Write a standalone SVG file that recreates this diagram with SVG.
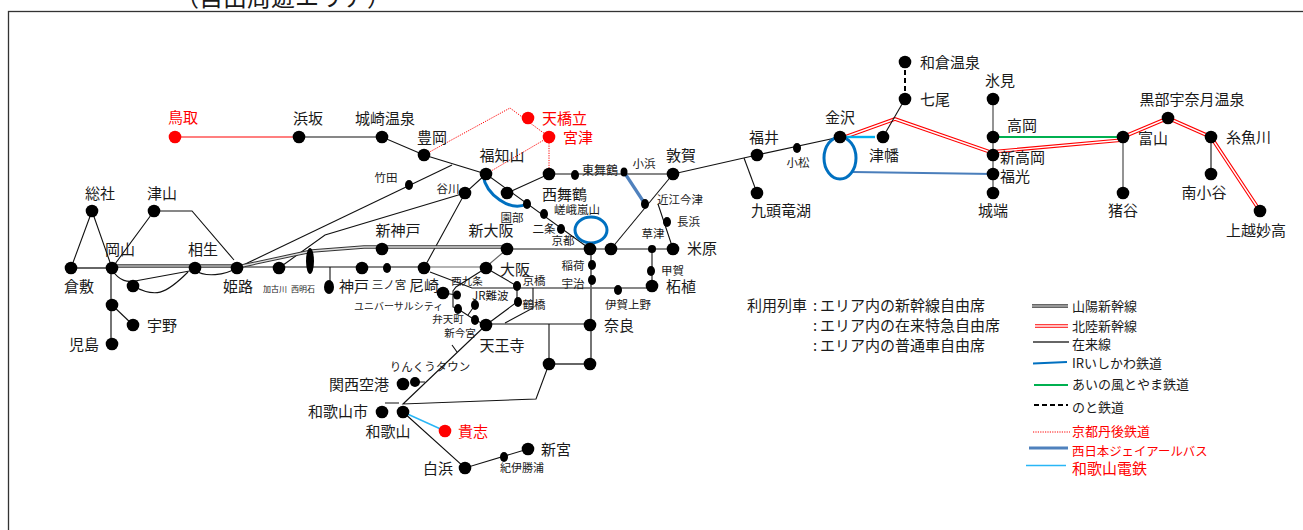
<svg xmlns="http://www.w3.org/2000/svg" width="1303" height="530" viewBox="0 0 1303 530">
<style>
text{font-family:"Noto Sans CJK JP","Liberation Sans",sans-serif;font-size:15px;fill:#1a1a1a}
.s{font-size:11.5px}.t{font-size:8px}.m{text-anchor:middle}.r{fill:#f00}
.lg{font-size:13px}
circle,ellipse.d{fill:#000}.red{fill:#f00}
path{fill:none}
.k{stroke:#111;stroke-width:1.1}.g{stroke:#666;stroke-width:1.8}
.so{stroke:#333;stroke-width:3.6}
.ho{stroke:#f00;stroke-width:3.6}.hw{stroke:#fff;stroke-width:1.4}
.b{stroke:#0070c0;stroke-width:3}.bl{stroke:#4a7ebb;stroke-width:2.2}.c{stroke:#29b6f6;stroke-width:1.4}.ci{stroke:#00b0f0;stroke-width:2.4}
.gr{stroke:#00b050;stroke-width:2.2}.dt{stroke:#f00;stroke-width:1;stroke-dasharray:1.2 1.2}
.bus{stroke:#4f81bd;stroke-width:3.2}.da{stroke:#000;stroke-width:2;stroke-dasharray:5 3}
</style>
<text x="175" y="6" style="font-size:24px">（自由周遊エリア）</text>
<rect x="8.500" y="11.500" width="1300" height="530" fill="none" stroke="#333" stroke-width="1.3"/>
<g id="connectors">
<path style="stroke:#f00;stroke-width:1.1" d="M175 137H299"/>
<path class="k" d="M299 137H382L424 155L486 174L590 249"/>
<path class="k" d="M507 193L549 174H673L757 155L840 137"/>
<path class="k" d="M744 158L757 193"/>
<path class="k" d="M673 174L611 249"/>
<path class="k" d="M658 204L673 249"/>
<path class="bus" d="M624 172L645 204"/>
<path class="dt" d="M424 155L510 108L549 137"/>
<path class="dt" d="M486 174L549 137V174"/>
<path class="k" d="M237 268L452 165"/>
<path class="k" d="M279 268L325 235L465 193"/>
<path class="k" d="M424 268L465 193L486 174"/>
<path class="k" d="M92 211L71 268M92 211L112 268M154 211L115 264M154 211H192L234 260"/>
<path class="g" d="M71 268H112M111 268V344"/>
<path class="k" d="M112 270C120 282 128 282 135 281L195 270"/>
<path class="k" d="M133 286C155 298 165 295 188 272"/>
<path class="k" d="M195 270C205 278 225 275 237 268"/>
<path class="k" d="M112 305L133 325"/>
<path class="so" d="M112 266H237"/><path class="hw" d="M112 266H237" style="stroke-width:1.2"/>
<path class="k" d="M237 267H424"/>
<path class="k" d="M330 267V287"/>
<path class="so" d="M237 267L312 251L364 247H507" style="stroke-width:3.4"/>
<path class="hw" d="M237 267L312 251L364 247H507" style="stroke:#ddd;stroke-width:1.4"/>
<path class="k" d="M507 249H673"/>
<path class="g" d="M424 267H486L507 249" style="stroke-width:1.2"/>
<path class="k" d="M486 268L517 286V302L486 325"/>
<path class="k" d="M486 268L456 287L453 291V307L458 309L475 320L486 325"/>
<path class="k" d="M443 293L457 295M475 305L468 315"/>
<path class="k" d="M430 272L472 288H652"/>
<path class="k" d="M533 288V308L505 323"/>
<path class="k" d="M652 249V286"/>
<path class="k" d="M486 324H590M549 324V364"/>
<path class="g" d="M591 249V364H549"/>
<path class="k" d="M549 364L536 399L403 404L486 325"/>
<path class="k" d="M452 345L457 352M415 382H425M385 403H399"/>
<path class="k" d="M403 412L465 468L528 449"/>
<path class="c" d="M403 412L445 431"/>
<path class="ho" d="M845 137L895 119L990 152L1123 140"/><path class="hw" d="M845 137L895 119L990 152L1123 140"/>
<path class="ho" d="M1123 137L1168 118L1211 137L1260 211"/><path class="hw" d="M1123 137L1168 118L1211 137L1260 211"/>
<path class="ci" d="M845 137H875"/>
<path class="k" d="M905 99L883 137"/>
<path class="da" d="M905 62V99"/>
<path class="g" d="M993 99V193M1123 137V193" style="stroke-width:1.4"/>
<path class="k" d="M1211 137V174"/>
<path class="gr" d="M993 137H1123"/>
<path class="bl" d="M853 172L993 174"/>
<path class="b" d="M483 175C486 195 510 212 527 204"/>
<ellipse class="b" cx="591" cy="230" rx="16" ry="13" fill="none"/>
<ellipse class="b" cx="840" cy="158" rx="16" ry="21" fill="none"/>
</g>
<g id="n-tottori"><circle class="red" cx="175" cy="137" r="6.300"/><text class="m r" x="183" y="123">鳥取</text></g>
<g id="n-hamasaka"><circle cx="299" cy="137" r="6.300"/><text class="m" x="308" y="124">浜坂</text></g>
<g id="n-kinosaki"><circle cx="382" cy="137" r="6.300"/><text class="m" x="385" y="124">城崎温泉</text></g>
<g id="n-toyooka"><circle cx="424" cy="155" r="6.300"/><text class="m" x="432" y="143">豊岡</text></g>
<g id="n-fukuchiyama"><circle cx="486" cy="174" r="6.300"/><text class="m" x="502" y="161">福知山</text></g>
<g id="n-amanohashidate"><circle class="red" cx="528" cy="118" r="6.300"/><text class="r" x="542" y="124">天橋立</text></g>
<g id="n-miyazu"><circle class="red" cx="549" cy="137" r="6.300"/><text class="r" x="563" y="143">宮津</text></g>
<g id="n-nishimaizuru"><circle cx="507" cy="193" r="6.300"/><text x="542" y="200">西舞鶴</text></g>
<g id="n-higashimaizuru"><circle cx="549" cy="174" r="6.300"/><ellipse class="d" cx="575" cy="175" rx="4" ry="5"/><text x="582" y="175" style="font-size:12px">東舞鶴</text></g>
<g id="n-obama"><ellipse class="d" cx="624" cy="172" rx="3.500" ry="4.500"/><text class="s m" x="644" y="168">小浜</text></g>
<g id="n-tsuruga"><circle cx="673" cy="174" r="6.300"/><text class="m" x="681" y="161">敦賀</text></g>
<g id="n-fukui"><circle cx="757" cy="155" r="6.300"/><text class="m" x="764" y="143">福井</text></g>
<g id="n-komatsu"><ellipse class="d" cx="797" cy="148" rx="4" ry="5"/><text class="s m" x="798" y="167">小松</text></g>
<g id="n-kanazawa"><circle cx="840" cy="137" r="6.300"/><text class="m" x="840" y="123">金沢</text></g>
<g id="n-tsubata"><circle cx="883" cy="137" r="6.300"/><text class="m" x="884" y="161">津幡</text></g>
<g id="n-nanao"><circle cx="905" cy="99" r="6.300"/><text x="920" y="105">七尾</text></g>
<g id="n-wakura"><circle cx="905" cy="62" r="6.300"/><text x="920" y="68">和倉温泉</text></g>
<g id="n-himi"><circle cx="993" cy="99" r="6.300"/><text class="m" x="1000" y="86">氷見</text></g>
<g id="n-takaoka"><circle cx="993" cy="137" r="6.300"/><text x="1007" y="131">高岡</text></g>
<g id="n-shintakaoka"><circle cx="993" cy="155" r="6.300"/><text x="1000" y="163">新高岡</text></g>
<g id="n-fukumitsu"><circle cx="993" cy="174" r="6.300"/><text x="1000" y="182">福光</text></g>
<g id="n-johana"><circle cx="993" cy="193" r="6.300"/><text class="m" x="993" y="216">城端</text></g>
<g id="n-toyama"><circle cx="1123" cy="137" r="6.300"/><text x="1138" y="144">富山</text></g>
<g id="n-kurobe"><circle cx="1168" cy="118" r="6.300"/><text class="m" x="1192" y="105">黒部宇奈月温泉</text></g>
<g id="n-itoigawa"><circle cx="1211" cy="137" r="6.300"/><text x="1226" y="143">糸魚川</text></g>
<g id="n-minamiotari"><circle cx="1211" cy="174" r="6.300"/><text class="m" x="1204" y="198">南小谷</text></g>
<g id="n-joetsumyoko"><circle cx="1260" cy="211" r="6.300"/><text class="m" x="1256" y="236">上越妙高</text></g>
<g id="n-inotani"><circle cx="1123" cy="193" r="6.300"/><text class="m" x="1123" y="216">猪谷</text></g>
<g id="n-kuzuryuko"><circle cx="757" cy="193" r="6.300"/><text class="m" x="781" y="216">九頭竜湖</text></g>
<g id="n-soja"><circle cx="92" cy="211" r="6.300"/><text class="m" x="100" y="199">総社</text></g>
<g id="n-tsuyama"><circle cx="154" cy="211" r="6.300"/><text class="m" x="162" y="199">津山</text></g>
<g id="n-kurashiki"><circle cx="71" cy="268" r="6.300"/><text class="m" x="79" y="292">倉敷</text></g>
<g id="n-okayama"><circle cx="112" cy="268" r="6.300"/><text class="m" x="120" y="255">岡山</text></g>
<g id="n-aioi"><circle cx="195" cy="268" r="6.300"/><text class="m" x="203" y="255">相生</text></g>
<g id="n-himeji"><circle cx="237" cy="268" r="6.300"/><text class="m" x="238" y="292">姫路</text></g>
<g id="n-kakogawa"><circle cx="279" cy="268" r="6.300"/><text class="t m" x="275" y="292">加古川</text></g>
<g id="n-nishiakashi"><ellipse class="d" cx="310" cy="261" rx="4" ry="13"/><text class="t m" x="303" y="292">西明石</text></g>
<g id="n-kobe"><ellipse class="d" cx="329" cy="287" rx="5" ry="7"/><text x="339" y="292">神戸</text></g>
<g id="n-x1"><circle cx="133" cy="286" r="6.300"/></g>
<g id="n-chayamachi"><circle cx="112" cy="305" r="6.300"/></g>
<g id="n-uno"><circle cx="133" cy="325" r="6.300"/><text x="147" y="331">宇野</text></g>
<g id="n-kojima"><circle cx="112" cy="344" r="6.300"/><text class="m" x="84" y="350">児島</text></g>
<g id="n-shinkobe"><circle cx="382" cy="249" r="6.300"/><text class="m" x="398" y="236">新神戸</text></g>
<g id="n-shinosaka"><circle cx="507" cy="249" r="6.300"/><text class="m" x="491" y="236">新大阪</text></g>
<g id="n-x2"><circle cx="362" cy="268" r="6.300"/></g>
<g id="n-sannomiya"><ellipse class="d" cx="387" cy="268" rx="4" ry="5"/><text class="s m" x="389" y="289">三ノ宮</text></g>
<g id="n-amagasaki"><circle cx="424" cy="268" r="6.300"/><text class="m" x="424" y="291">尼崎</text></g>
<g id="n-osaka"><circle cx="486" cy="268" r="6.300"/><text x="500" y="275">大阪</text></g>
<g id="n-takeda"><ellipse class="d" cx="409" cy="185" rx="4" ry="5"/><text class="s m" x="386" y="182">竹田</text></g>
<g id="n-tanigawa"><circle cx="465" cy="193" r="6.300"/><text class="s m" x="448" y="193">谷川</text></g>
<g id="n-sonobe"><ellipse class="d" cx="527" cy="204" rx="4" ry="5"/><text class="s m" x="512" y="222">園部</text></g>
<g id="n-sagaarashiyama"><ellipse class="d" cx="544" cy="214" rx="4" ry="5"/><text class="s m" x="577" y="214">嵯峨嵐山</text></g>
<g id="n-nijo"><ellipse class="d" cx="561" cy="229" rx="4" ry="5"/><text class="s m" x="544" y="233">二条</text></g>
<g id="n-kyoto"><circle cx="590" cy="249" r="6.300"/><text class="s m" x="563" y="245">京都</text></g>
<g id="n-yamashina"><circle cx="611" cy="249" r="6.300"/></g>
<g id="n-kusatsu"><circle cx="652" cy="249" r="4"/><text class="s m" x="653" y="238">草津</text></g>
<g id="n-maibara"><circle cx="673" cy="249" r="6.300"/><text x="687" y="254">米原</text></g>
<g id="n-omiimazu"><ellipse class="d" cx="645" cy="204" rx="4" ry="5"/><text class="s" x="657" y="204">近江今津</text></g>
<g id="n-nagahama"><ellipse class="d" cx="667" cy="222" rx="4" ry="5"/><text class="s" x="677" y="226">長浜</text></g>
<g id="n-inari"><ellipse class="d" cx="592" cy="265" rx="4" ry="5"/><text class="s m" x="573" y="270">稲荷</text></g>
<g id="n-uji"><ellipse class="d" cx="592" cy="280" rx="4" ry="5"/><text class="s m" x="573" y="288">宇治</text></g>
<g id="n-koka"><ellipse class="d" cx="651" cy="271" rx="4" ry="5"/><text class="s" x="661" y="275">甲賀</text></g>
<g id="n-tsuge"><circle cx="652" cy="286" r="6.300"/><text x="666" y="292">柘植</text></g>
<g id="n-igaueno"><ellipse class="d" cx="618" cy="290" rx="4" ry="5"/><text class="s m" x="628" y="309">伊賀上野</text></g>
<g id="n-nara"><circle cx="590" cy="325" r="6.300"/><text x="604" y="331">奈良</text></g>
<g id="n-x3"><circle cx="549" cy="364" r="6.300"/></g>
<g id="n-x4"><circle cx="590" cy="364" r="6.300"/></g>
<g id="n-tennoji"><circle cx="486" cy="325" r="6.300"/><text class="m" x="502" y="351">天王寺</text></g>
<g id="n-kyobashi"><ellipse class="d" cx="517" cy="286" rx="4" ry="5"/><text class="s m" x="534" y="285">京橋</text></g>
<g id="n-tsuruhashi"><ellipse class="d" cx="518" cy="302" rx="4" ry="5"/><text class="s m" x="534" y="309">鶴橋</text></g>
<g id="n-nishikujo"><ellipse class="d" cx="457" cy="295" rx="4" ry="4.500"/><text class="s m" x="467" y="285" style="font-size:10.500px">西九条</text></g>
<g id="n-usj"><circle cx="443" cy="293" r="6.300"/><text x="354" y="310" style="font-size:10px">ユニバーサルシティ</text></g>
<g id="n-jrnamba"><ellipse class="d" cx="475" cy="305" rx="4" ry="5"/><text class="s" x="472" y="300">JR難波</text></g>
<g id="n-bentencho"><ellipse class="d" cx="458" cy="309" rx="4" ry="5"/><text class="s m" x="448" y="323" style="font-size:10.500px">弁天町</text></g>
<g id="n-shinimamiya"><ellipse class="d" cx="475" cy="320" rx="4" ry="5"/><text class="s m" x="460" y="337" style="font-size:10.500px">新今宮</text></g>
<g id="n-rinku"><circle cx="415" cy="382" r="5"/><text class="s m" x="430" y="371">りんくうタウン</text></g>
<g id="n-kix"><circle cx="403" cy="384" r="6.300"/><text class="m" x="359" y="390">関西空港</text></g>
<g id="n-wakayamashi"><circle cx="382" cy="412" r="6.300"/><text class="m" x="338" y="417">和歌山市</text></g>
<g id="n-wakayama"><circle cx="403" cy="412" r="6.300"/><text class="m" x="388" y="437">和歌山</text></g>
<g id="n-kishi"><circle class="red" cx="445" cy="431" r="6.300"/><text class="r" x="458" y="437">貴志</text></g>
<g id="n-shirahama"><circle cx="465" cy="468" r="6.300"/><text class="m" x="438" y="474">白浜</text></g>
<g id="n-kiikatsuura"><ellipse class="d" cx="504" cy="457" rx="4" ry="5"/><text class="s m" x="522" y="472" style="font-size:11px">紀伊勝浦</text></g>
<g id="n-shingu"><circle cx="528" cy="449" r="6.300"/><text x="541" y="455">新宮</text></g>
<g id="notes">
<text x="747" y="311">利用列車</text>
<text x="813" y="311">:</text><text x="820" y="311">エリア内の新幹線自由席</text>
<text x="813" y="331">:</text><text x="820" y="331">エリア内の在来特急自由席</text>
<text x="813" y="351">:</text><text x="820" y="351">エリア内の普通車自由席</text>
</g>
<g id="legend">
<path class="so" d="M1032 306H1068" style="stroke-width:3.400"/><path class="hw" d="M1032 306H1068" style="stroke-width:1"/>
<path class="ho" d="M1035 326H1068"/><path class="hw" d="M1035 326H1068"/>
<path class="g" d="M1033 342H1069"/>
<path class="b" d="M1033 363.500L1067 362" style="stroke-width:2"/>
<path class="gr" d="M1034 385H1068"/>
<path class="da" d="M1034 405H1068"/>
<path class="dt" d="M1033 432H1070"/>
<path class="bus" d="M1029 448H1068"/>
<path class="c" d="M1026 465.500H1066"/>
<text class="lg" x="1072" y="311">山陽新幹線</text>
<text class="lg" x="1072" y="331">北陸新幹線</text>
<text class="lg" x="1072" y="349">在来線</text>
<text class="lg" x="1072" y="368">IRいしかわ鉄道</text>
<text class="lg" x="1072" y="389">あいの風とやま鉄道</text>
<text class="lg" x="1072" y="412">のと鉄道</text>
<text class="lg r" x="1072" y="436">京都丹後鉄道</text>
<text class="r" x="1072" y="456" style="font-size:12.400px">西日本ジェイアールバス</text>
<text class="r" x="1072" y="474">和歌山電鉄</text>
</g>
</svg>
